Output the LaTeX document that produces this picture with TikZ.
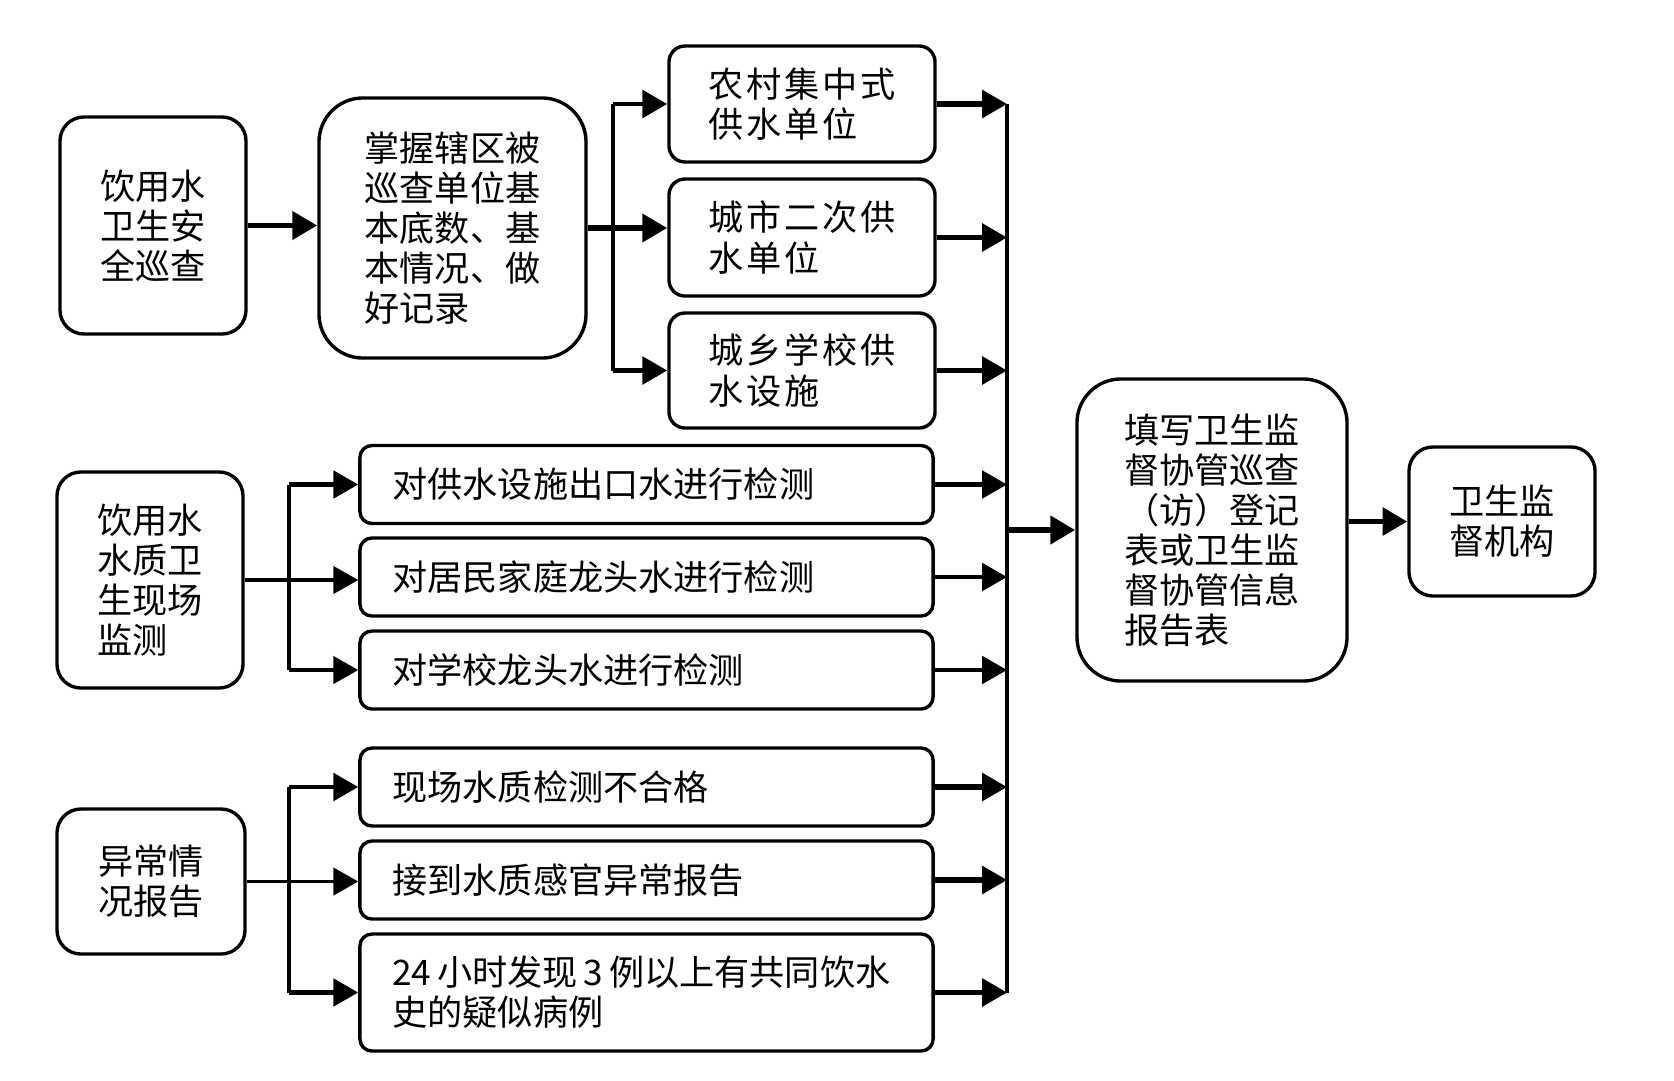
\documentclass[tikz,border=0pt]{standalone}
\usepackage{fontspec}
\setmainfont{Noto Sans CJK SC}
\newfontfamily\kuan[LetterSpace=8]{Noto Sans CJK SC}
\usetikzlibrary{arrows.meta}

\begin{document}
\begin{tikzpicture}[x=0.025cm, y=-0.025cm,
  box/.style={draw, line width=2.4pt, rounded corners=0.6cm, align=left, inner sep=0pt, font=\fontsize{25}{28.5}\selectfont},
  unit/.style={box, rounded corners=0.4cm, minimum width=6.65cm, font=\kuan\fontsize{25}{28.5}\selectfont},
  row/.style={box, rounded corners=0.3cm, text width=12.7cm, inner xsep=0.8cm, minimum width=14.325cm, minimum height=1.95cm},
  >={Triangle[length=0.62cm,width=0.68cm]}]

\useasboundingbox (0,0) rectangle (1674,1080);
\fill[white] (0,0) rectangle (1674,1080);

% left column
\node[box, minimum width=4.65cm, minimum height=5.425cm] (xuncha) at (153,225.5) {饮用水\\卫生安\\全巡查};
\node[box, minimum width=4.65cm, minimum height=5.4cm] (jiance) at (150,580) {饮用水\\水质卫\\生现场\\监测};
\node[box, minimum width=4.7cm, minimum height=3.625cm] (yichang) at (151,881.5) {异常情\\况报告};

\node[box, rounded corners=1.1cm, minimum width=6.675cm, minimum height=6.5cm] (jiben) at (452.5,228) {掌握辖区被\\巡查单位基\\本底数、基\\本情况、做\\好记录};

% supply units
\node[unit, minimum height=2.9cm] (nongcun) at (802,104) {农村集中式\\供水单位};
\node[unit, minimum height=2.925cm] (chengshi) at (802,237.5) {城市二次供\\水单位};
\node[unit, minimum height=2.875cm] (xuexiao) at (802,370.5) {城乡学校供\\水设施};

% checks
\node[row] (chukou) at (646.5,484.5) {对供水设施出口水进行检测};
\node[row] (jumin) at (646.5,577) {对居民家庭龙头水进行检测};
\node[row] (xiaolong) at (646.5,670) {对学校龙头水进行检测};
\node[row] (buhege) at (646.5,787) {现场水质检测不合格};
\node[row] (ganguan) at (646.5,880) {接到水质感官异常报告};
\node[row, minimum height=2.925cm] (bingli) at (646.5,992.5) {24\,小时发现\,3\,例以上有共同饮水\\史的疑似病例};

% right side
\node[box, rounded corners=1.1cm, minimum width=6.75cm, minimum height=7.55cm] (dengji) at (1212,530) {填写卫生监\\督协管巡查\\（访）登记\\表或卫生监\\督协管信息\\报告表};
\node[box, minimum width=4.65cm, minimum height=3.725cm] (jigou) at (1502,521.5) {卫生监\\督机构};

\coordinate (fenA) at (613,0);
\coordinate (fenB) at (289,0);
\coordinate (hui) at (1007,0);

\draw[line width=4.2pt, ->] (xuncha.east) -- (xuncha.east -| jiben.west);
\draw[line width=4pt, ->] (jiben.east) -- (jiben.east -| chengshi.west);
\draw[line width=2.4pt] (fenA |- nongcun.west) -- (fenA |- xuexiao.west);
\draw[line width=3.4pt, ->] (fenA |- nongcun.west) -- (nongcun.west);
\draw[line width=3.4pt, ->] (fenA |- xuexiao.west) -- (xuexiao.west);

\draw[line width=2.4pt, ->] (jiance.east) -- (jiance.east -| jumin.west);
\draw[line width=2.4pt] (fenB |- chukou.west) -- (fenB |- xiaolong.west);
\draw[line width=3pt, ->] (fenB |- chukou.west) -- (chukou.west);
\draw[line width=2.4pt, ->] (fenB |- xiaolong.west) -- (xiaolong.west);

\draw[line width=2.4pt, ->] (yichang.east) -- (yichang.east -| ganguan.west);
\draw[line width=2.4pt] (fenB |- buhege.west) -- (fenB |- bingli.west);
\draw[line width=3.4pt, ->] (fenB |- buhege.west) -- (buhege.west);
\draw[line width=3pt, ->] (fenB |- bingli.west) -- (bingli.west);

% collecting line
\draw[line width=2.2pt] (hui |- nongcun.east) -- (hui |- bingli.east);
\draw[line width=3.6pt, ->] (nongcun.east) -- (hui |- nongcun.east);
\draw[line width=3.6pt, ->] (chengshi.east) -- (hui |- chengshi.east);
\draw[line width=3.6pt, ->] (xuexiao.east) -- (hui |- xuexiao.east);
\draw[line width=3pt, ->] (chukou.east) -- (hui |- chukou.east);
\draw[line width=3pt, ->] (jumin.east) -- (hui |- jumin.east);
\draw[line width=3pt, ->] (xiaolong.east) -- (hui |- xiaolong.east);
\draw[line width=3.6pt, ->] (buhege.east) -- (hui |- buhege.east);
\draw[line width=3.6pt, ->] (ganguan.east) -- (hui |- ganguan.east);
\draw[line width=3.6pt, ->] (bingli.east) -- (hui |- bingli.east);

\draw[line width=4.4pt, ->] (hui |- dengji.west) -- (dengji.west);
\draw[line width=4pt, ->] (jigou.west -| dengji.east) -- (jigou.west);
\end{tikzpicture}
\end{document}
